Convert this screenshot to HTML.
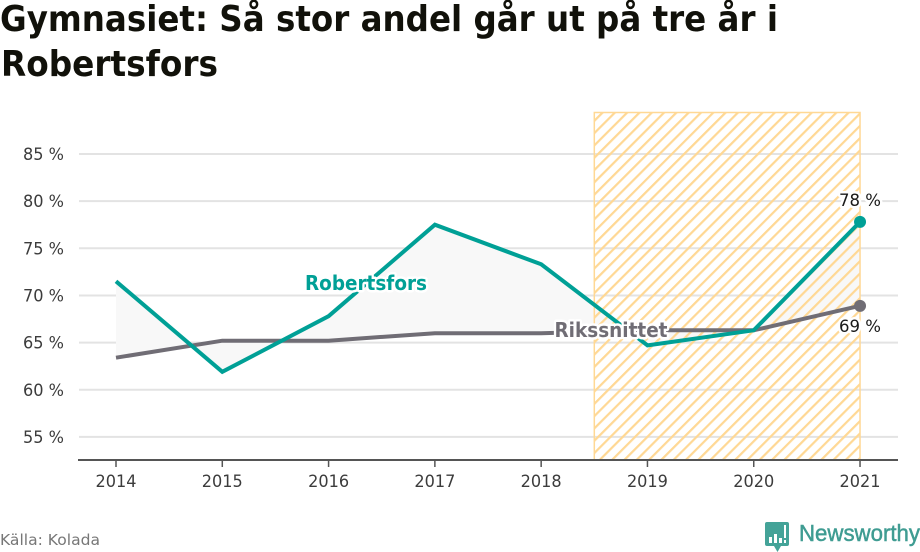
<!DOCTYPE html>
<html lang="sv">
<head>
<meta charset="utf-8">
<title>Gymnasiet: Så stor andel går ut på tre år i Robertsfors</title>
<style>
html,body{margin:0;padding:0;background:#fff;}
body{width:920px;height:552px;overflow:hidden;position:relative;font-family:"DejaVu Sans","Liberation Sans",sans-serif;}
svg{position:absolute;left:0;top:0;}
text{font-family:"DejaVu Sans","Liberation Sans",sans-serif;}
</style>
</head>
<body>
<svg id="chart" width="920" height="552" viewBox="0 0 920 552">
<defs>
<pattern id="hatch" patternUnits="userSpaceOnUse" width="8.7" height="8.7" patternTransform="rotate(45)">
<rect x="0" y="0" width="2.2" height="8.7" fill="#ffd894"></rect>
</pattern>
</defs>
<text x="0" y="31" font-size="36" font-weight="700" fill="#11110a" textLength="778" lengthAdjust="spacingAndGlyphs">Gymnasiet: Så stor andel går ut på tre år i</text>
<text x="1" y="76" font-size="36" font-weight="700" fill="#11110a" textLength="217" lengthAdjust="spacingAndGlyphs">Robertsfors</text>
<g id="plot"></g>
<text x="0" y="545" font-size="15.5" fill="#777" textLength="100" lengthAdjust="spacingAndGlyphs">Källa: Kolada</text>
<g>
<path d="M767 522h20a2 2 0 0 1 2 2v20a2 2 0 0 1-2 2h-6l-3.500 6-3.500-6h-7a2 2 0 0 1-2-2v-20a2 2 0 0 1 2-2z" fill="#44a398"></path>
<path d="M769 543v-6h3v6zM774 543v-9h3v9zM779 543v-5h3v5zM784 543v-3h2v3zM784 538v-13h2v13z" fill="#fff"></path>
<text x="799" y="541" font-size="23" font-weight="400" fill="#3f9c92" stroke="#3f9c92" stroke-width="0.5" style="font-family:'Liberation Sans',sans-serif" textLength="121" lengthAdjust="spacingAndGlyphs">Newsworthy</text>
</g>
</svg>
<script>
var years = [2014, 2015, 2016, 2017, 2018, 2019, 2020, 2021];
var robertsfors = [71.5, 61.9, 67.8, 77.5, 73.3, 64.7, 66.3, 77.8];
var rikssnittet = [63.4, 65.2, 65.2, 66.0, 66.0, 66.3, 66.3, 68.9];
var yTicks = [55, 60, 65, 70, 75, 80, 85];
var highlightYears = [2018.5, 2021];
var endLabels = ["78 %", "69 %"];

var NS = "http://www.w3.org/2000/svg";
var plot = document.getElementById("plot");
function xScale(year) { return 116 + (year - 2014) * 106.29; }
function yScale(v) { return 154 + (85 - v) * 9.43; }
function make(tag, attrs, parent, text) {
  var el = document.createElementNS(NS, tag);
  for (var k in attrs) { el.setAttribute(k, attrs[k]); }
  if (text !== undefined) { el.textContent = text; }
  (parent || plot).appendChild(el);
  return el;
}
function pointsFor(series) {
  return series.map(function (v, i) { return xScale(years[i]).toFixed(1) + "," + yScale(v).toFixed(1); });
}

yTicks.forEach(function (t) {
  var line = make("line", { x1: 79, x2: 898, y1: yScale(t), y2: yScale(t), stroke: "#e3e3e3", "stroke-width": 2 });
  
  
  var label = make("text", { x: 64, y: yScale(t) + 6, "text-anchor": "end", "font-size": 16.5, fill: "#3c3c3c", textLength: 41, lengthAdjust: "spacingAndGlyphs" }, plot, t + " %");
  
  
});

var gapFill = make("polygon", {
  points: pointsFor(robertsfors).concat(pointsFor(rikssnittet).reverse()).join(" "),
  fill: "#f8f8f8", "fill-rule": "evenodd"
});



var bandX0 = xScale(highlightYears[0]);
var bandX1 = xScale(highlightYears[1]);
var band = make("rect", {
  x: bandX0, y: 112.5, width: bandX1 - bandX0, height: 347.5,
  fill: "url(#hatch)", stroke: "#ffd894", "stroke-width": 1.5
});



var axis = make("line", { x1: 78, x2: 898, y1: 460, y2: 460, stroke: "#555", "stroke-width": 2 });



years.forEach(function (yr) {
  var tick = make("line", { x1: xScale(yr), x2: xScale(yr), y1: 460, y2: 467, stroke: "#555", "stroke-width": 1.5 });
  
  
  var label = make("text", { x: xScale(yr), y: 487, "text-anchor": "middle", "font-size": 16.5, fill: "#3c3c3c", textLength: 41, lengthAdjust: "spacingAndGlyphs" }, plot, yr);
  
  
});

var riksLine = make("polyline", { points: pointsFor(rikssnittet).join(" "), fill: "none", stroke: "#706d75", "stroke-width": 4 });



var robLine = make("polyline", { points: pointsFor(robertsfors).join(" "), fill: "none", stroke: "#00a096", "stroke-width": 4 });



var lastIndex = years.length - 1;
var riksDot = make("circle", { cx: xScale(years[lastIndex]), cy: yScale(rikssnittet[lastIndex]), r: 6, fill: "#706d75" });


var robDot = make("circle", { cx: xScale(years[lastIndex]), cy: yScale(robertsfors[lastIndex]), r: 6, fill: "#00a096" });



var halo = { "paint-order": "stroke", stroke: "#fff", "stroke-width": 5, "stroke-linejoin": "round" };
function haloText(attrs, text) {
  var merged = {};
  for (var k in halo) { merged[k] = halo[k]; }
  for (var j in attrs) { merged[j] = attrs[j]; }
  return make("text", merged, plot, text);
}
var robName = haloText({ x: 366, y: 290, "text-anchor": "middle", "font-size": 20, "font-weight": 700, fill: "#00a096", textLength: 122, lengthAdjust: "spacingAndGlyphs" }, "Robertsfors");


var riksName = haloText({ x: 611, y: 337, "text-anchor": "middle", "font-size": 20, "font-weight": 700, fill: "#706d75", textLength: 113, lengthAdjust: "spacingAndGlyphs" }, "Rikssnittet");


var robValue = haloText({ x: 860, y: 206, "text-anchor": "middle", "font-size": 16.5, fill: "#1a1a1a", textLength: 42, lengthAdjust: "spacingAndGlyphs" }, endLabels[0]);


var riksValue = haloText({ x: 860, y: 332, "text-anchor": "middle", "font-size": 16.5, fill: "#1a1a1a", textLength: 42, lengthAdjust: "spacingAndGlyphs" }, endLabels[1]);


</script>
</body>
</html>
